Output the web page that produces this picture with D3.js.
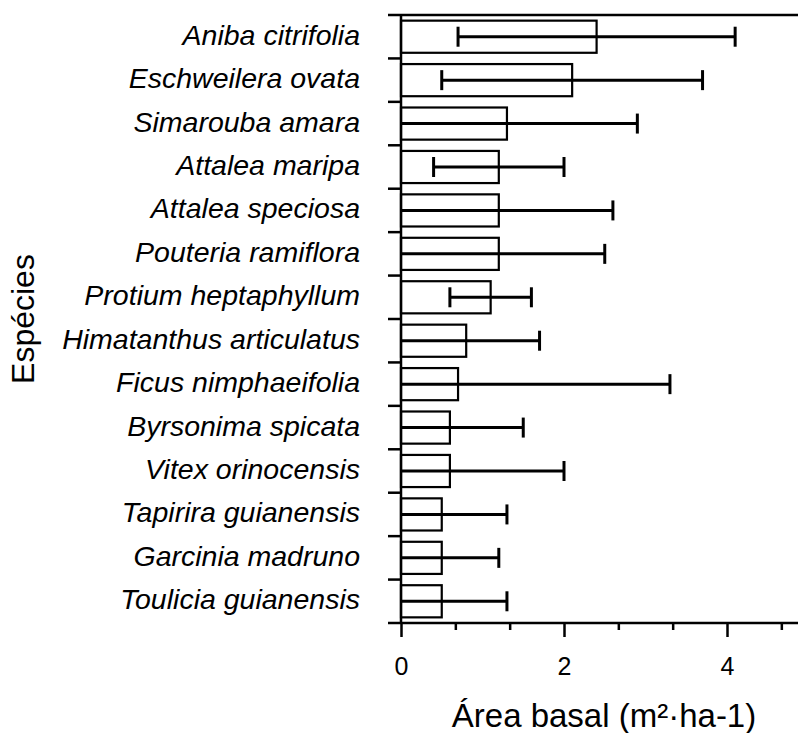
<!DOCTYPE html>
<html>
<head>
<meta charset="utf-8">
<script src="https://cdn.jsdelivr.net/npm/d3@7"></script>
<style>
  html, body { margin: 0; padding: 0; background: #fff; }
  svg { display: block; font-family: "Liberation Sans", Arial, sans-serif; }
</style>
</head>
<body>
<svg id="chart" width="798" height="733"></svg>
<script>
// Basal area per species: mean and standard deviation (m²·ha-1)
const species = [
  "Aniba citrifolia", "Eschweilera ovata", "Simarouba amara", "Attalea maripa",
  "Attalea speciosa", "Pouteria ramiflora", "Protium heptaphyllum",
  "Himatanthus articulatus", "Ficus nimphaeifolia", "Byrsonima spicata",
  "Vitex orinocensis", "Tapirira guianensis", "Garcinia madruno", "Toulicia guianensis"
];
const meanArea = [2.4, 2.1, 1.3, 1.2, 1.2, 1.2, 1.1, 0.8, 0.7, 0.6, 0.6, 0.5, 0.5, 0.5];
const sdArea   = [1.7, 1.6, 1.6, 0.8, 1.4, 1.3, 0.5, 0.9, 2.6, 0.9, 1.4, 0.8, 0.7, 0.8];
const majorTicks = [0, 2, 4];
const minorTicks = [2/3, 4/3, 8/3, 10/3, 14/3];

const W = 798, H = 733;
const plotLeft = 401, plotTop = 15, plotBottom = 623, axisStart = 388;

const rows = species.map((s, i) => ({ name: s, mean: meanArea[i], sd: sdArea[i] }));

const svg = d3.select("#chart");

const x = d3.scaleLinear().domain([0, 5]).range([plotLeft, plotLeft + 5 * 81.5]);
const y = d3.scaleBand().domain(species).range([plotTop, plotBottom])
  .paddingInner(0.26).paddingOuter(0.13);

// Top border line
svg.append("line")
  .attr("x1", axisStart).attr("x2", W).attr("y1", plotTop).attr("y2", plotTop)
  .attr("stroke", "#000").attr("stroke-width", 2.5);

// Bars
svg.append("g").selectAll("rect").data(rows).join("rect")
  .attr("x", x(0))
  .attr("y", d => y(d.name))
  .attr("width", d => x(d.mean) - x(0))
  .attr("height", y.bandwidth())
  .attr("fill", "#fff")
  .attr("stroke", "#000")
  .attr("stroke-width", 2.2);

// Error bars (lower end clipped at zero, no cap there)
const capH = 20;
const eb = svg.append("g").attr("stroke", "#000").attr("stroke-width", 3);
rows.forEach(d => {
  const cy = y(d.name) + y.bandwidth() / 2;
  const lo = d.mean - d.sd, hi = d.mean + d.sd;
  eb.append("line")
    .attr("x1", x(Math.max(0, lo))).attr("x2", x(hi))
    .attr("y1", cy).attr("y2", cy);
  eb.append("line")
    .attr("x1", x(hi)).attr("x2", x(hi))
    .attr("y1", cy - capH / 2).attr("y2", cy + capH / 2);
  if (lo > 0) {
    eb.append("line")
      .attr("x1", x(lo)).attr("x2", x(lo))
      .attr("y1", cy - capH / 2).attr("y2", cy + capH / 2);
  }
});

// Y axis: vertical line with ticks at category boundaries
const step = y.step();
const y0 = y(species[0]) - y.paddingOuter() * step;
const boundaries = d3.range(species.length + 1).map(i => y0 + i * step);
svg.append("line")
  .attr("x1", plotLeft).attr("x2", plotLeft).attr("y1", plotTop).attr("y2", plotBottom)
  .attr("stroke", "#000").attr("stroke-width", 2.5);
svg.append("g").selectAll("line").data(boundaries.slice(1, -1)).join("line")
  .attr("x1", axisStart).attr("x2", plotLeft)
  .attr("y1", d => d).attr("y2", d => d)
  .attr("stroke", "#000").attr("stroke-width", 2.5);

// Species labels
svg.append("g").selectAll("text").data(rows).join("text")
  .attr("x", 360)
  .attr("y", d => y(d.name) + y.bandwidth() / 2 + 8)
  .attr("text-anchor", "end")
  .attr("font-style", "italic")
  .attr("font-size", 28.5)
  .text(d => d.name);

// X axis
const xAxis = svg.append("g").attr("transform", `translate(0,${plotBottom})`);
xAxis.call(d3.axisBottom(x).tickValues(majorTicks).tickSize(14).tickPadding(20).tickFormat(d3.format("d")));
xAxis.select(".domain").remove();
xAxis.selectAll(".tick line").attr("stroke-width", 2.5);
xAxis.selectAll(".tick text").attr("font-size", 25).attr("font-family", "Liberation Sans, Arial, sans-serif").attr("fill", "#000");

const xMinor = svg.append("g").attr("transform", `translate(0,${plotBottom})`);
xMinor.call(d3.axisBottom(x).tickValues(minorTicks).tickSize(7).tickFormat(""));
xMinor.select(".domain").remove();
xMinor.selectAll(".tick line").attr("stroke-width", 2.5);

svg.append("line")
  .attr("x1", axisStart).attr("x2", W).attr("y1", plotBottom).attr("y2", plotBottom)
  .attr("stroke", "#000").attr("stroke-width", 2.5);

// Axis titles
svg.append("text")
  .attr("x", 604).attr("y", 727)
  .attr("text-anchor", "middle")
  .attr("font-size", 33)
  .text("Área basal (m²·ha-1)");

svg.append("text")
  .attr("transform", "translate(34,319) rotate(-90)")
  .attr("text-anchor", "middle")
  .attr("font-size", 32)
  .text("Espécies");
</script>
</body>
</html>
